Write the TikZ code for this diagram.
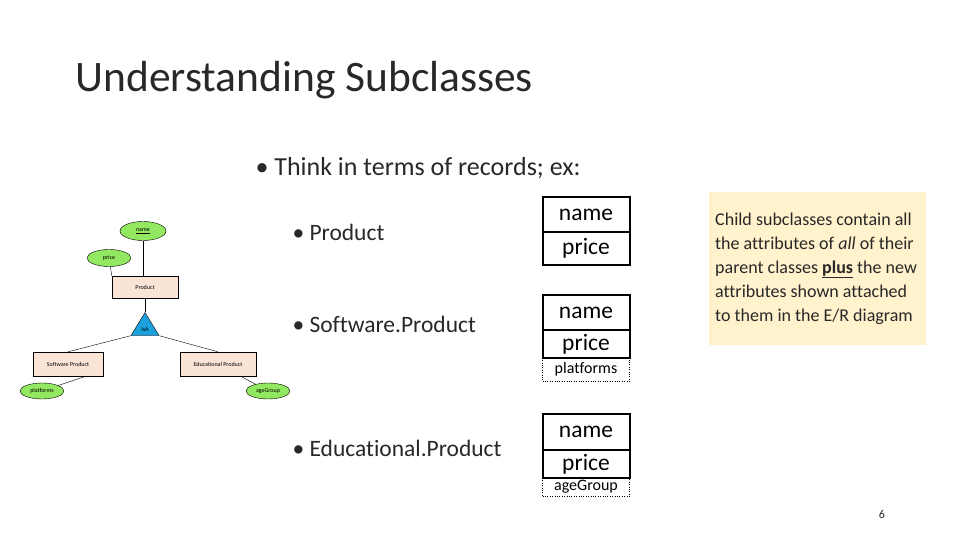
\documentclass[tikz,border=0pt]{standalone}
\usepackage{fontspec}
\setmainfont{Carlito}[Ligatures=NoCommon]
\usetikzlibrary{shapes.geometric}
\definecolor{attr}{RGB}{146,232,96}
\definecolor{ent}{RGB}{250,228,214}
\definecolor{isa}{RGB}{30,160,220}
\definecolor{note}{RGB}{255,242,204}
\definecolor{txt}{RGB}{40,40,40}
\tikzset{
 attrib/.style={ellipse,draw,fill=attr,inner sep=0pt,minimum width=44pt,minimum height=17pt,font=\fontsize{6}{7}\selectfont},
 entity/.style={rectangle,draw,fill=ent,inner sep=0pt,font=\fontsize{6}{7}\selectfont},
 cell/.style={rectangle,draw,line width=2pt,outer sep=0pt,minimum width=87pt,inner sep=0pt,font=\fontsize{23.5}{26}\selectfont},
 extra/.style={rectangle,draw,dotted,outer sep=0pt,minimum width=87pt,inner sep=0pt,font=\fontsize{16}{18}\selectfont},
 bul/.style={anchor=west,text=txt,font=\fontsize{23.5}{28}\selectfont}
}
\begin{document}
\begin{tikzpicture}[x=1pt,y=-1pt]
\useasboundingbox (0,0) rectangle (960,540);
\node[anchor=west,text=txt,font=\fontsize{43.5}{48}\selectfont] (title) at (72,80) {Understanding Subclasses};
\node[bul,font=\fontsize{26}{30}\selectfont] (b0) at (252,168) {• Think in terms of records; ex:};
\node[bul] (b1) at (289,232) {• Product};
\node[bul] (b2) at (289,324) {• Software.Product};
\node[bul] (b3) at (289,448) {• Educational.Product};
% ER diagram
\node[attrib,minimum width=46pt,minimum height=19pt] (name) at (143,231) {\underline{name}};
\node[attrib] (price) at (109,258) {price};
\node[entity,minimum width=66pt,minimum height=22pt] (prod) at (145,287) {Product};
\node[isosceles triangle,isosceles triangle stretches,shape border rotate=90,draw,fill=isa,inner sep=0pt,minimum width=28pt,minimum height=23pt,anchor=apex] (isa) at (145,312) {};
\node[font=\fontsize{6}{7}\selectfont,inner sep=0pt] (isal) at (145,329) {isA};
\node[entity,minimum width=70pt,minimum height=24pt] (sp) at (68,364) {Software Product};
\node[entity,minimum width=76pt,minimum height=24pt] (ep) at (218,364) {Educational Product};
\node[attrib,minimum height=16pt] (plat) at (42,391) {platforms};
\node[attrib,minimum height=16pt] (age) at (268,391) {ageGroup};
\draw (name) -- (prod.north -| name);
\draw (price) -- (prod.north west);
\draw (prod) -- (isa.apex);
\draw (isa.left corner) -- (sp.north);
\draw (isa.right corner) -- (ep.north);
\coordinate (spb) at ([xshift=18pt]sp.south);
\draw (spb) -- (plat);
\draw (ep) -- (age);
% tables
\node[cell,minimum height=35pt] (t1a) at (586,214.5) {name};
\node[cell,minimum height=33pt,anchor=north] (t1b) at (t1a.south) {price};
\node[cell,minimum height=35pt] (t2a) at (586,312.5) {name};
\node[cell,minimum height=28pt,anchor=north] (t2b) at (t2a.south) {price};
\node[extra,minimum height=23pt,anchor=north] (t2c) at (t2b.south) {platforms};
\node[cell,minimum height=36pt] (t3a) at (586,432) {name};
\node[cell,minimum height=28pt,anchor=north] (t3b) at (t3a.south) {price};
\node[extra,minimum height=18pt,anchor=north] (t3c) at (t3b.south) {ageGroup};
% note
\node[fill=note,anchor=north west,minimum width=217pt,minimum height=153pt,text width=205pt,align=flush left,inner sep=6pt,text=txt,font=\fontsize{18}{24}\selectfont] (note) at (709,192) {Child subclasses contain all the attributes of \textit{all} of their parent classes \textbf{\underline{plus}} the new attributes shown attached to them in the E/R diagram};
\node[text=txt,font=\fontsize{12}{14}\selectfont] (pg) at (882,514) {6};
\end{tikzpicture}
\end{document}
